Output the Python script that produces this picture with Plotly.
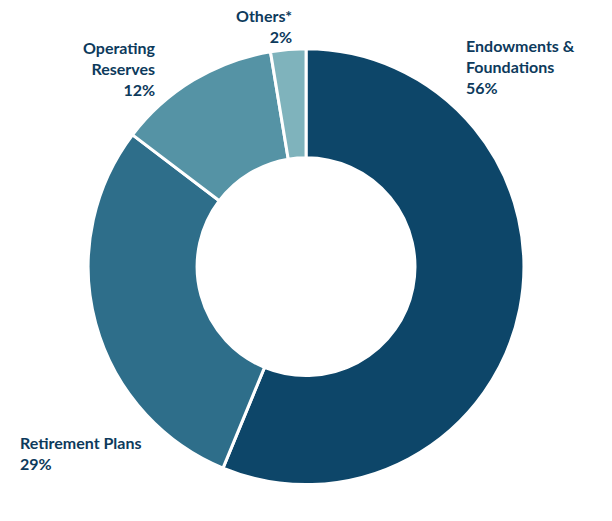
import plotly.graph_objects as go

categories = ["Endowments &<br>Foundations", "Retirement Plans", "Operating<br>Reserves", "Others*"]
values = [56, 29, 12, 2.6]
pct_labels = ["56%", "29%", "12%", "2%"]
colors = ["#0d4669", "#2e6e8a", "#5593a5", "#7fb3bc"]

fig = go.Figure(go.Pie(
    labels=categories, values=values, hole=0.5, sort=False, direction="clockwise",
    rotation=0, textinfo="none", hoverinfo="label",
    marker=dict(colors=colors, line=dict(color="white", width=3)),
    domain=dict(x=[0.131, 0.843], y=[0.084, 0.923]), showlegend=False,
))

W, H = 612, 521
font = dict(family="Lato", size=16, color="#0d3a5c")
specs = [  # (x px, y top px, xanchor, align)
    (456, 26, "left", "left"),
    (10, 423, "left", "left"),
    (150, 28, "right", "right"),
    (286, -4, "right", "right"),
]
for cat, pct, (x, y, xa, al) in zip(categories, pct_labels, specs):
    fig.add_annotation(x=x / W, y=1 - y / H, xref="paper", yref="paper",
                       xanchor=xa, yanchor="top", align=al, showarrow=False,
                       text=f"<b>{cat}<br>{pct}</b>", font=font)

fig.update_layout(width=W, height=H, margin=dict(l=0, r=0, t=0, b=0),
                  paper_bgcolor="white", plot_bgcolor="white")
fig.write_html("out.html")
